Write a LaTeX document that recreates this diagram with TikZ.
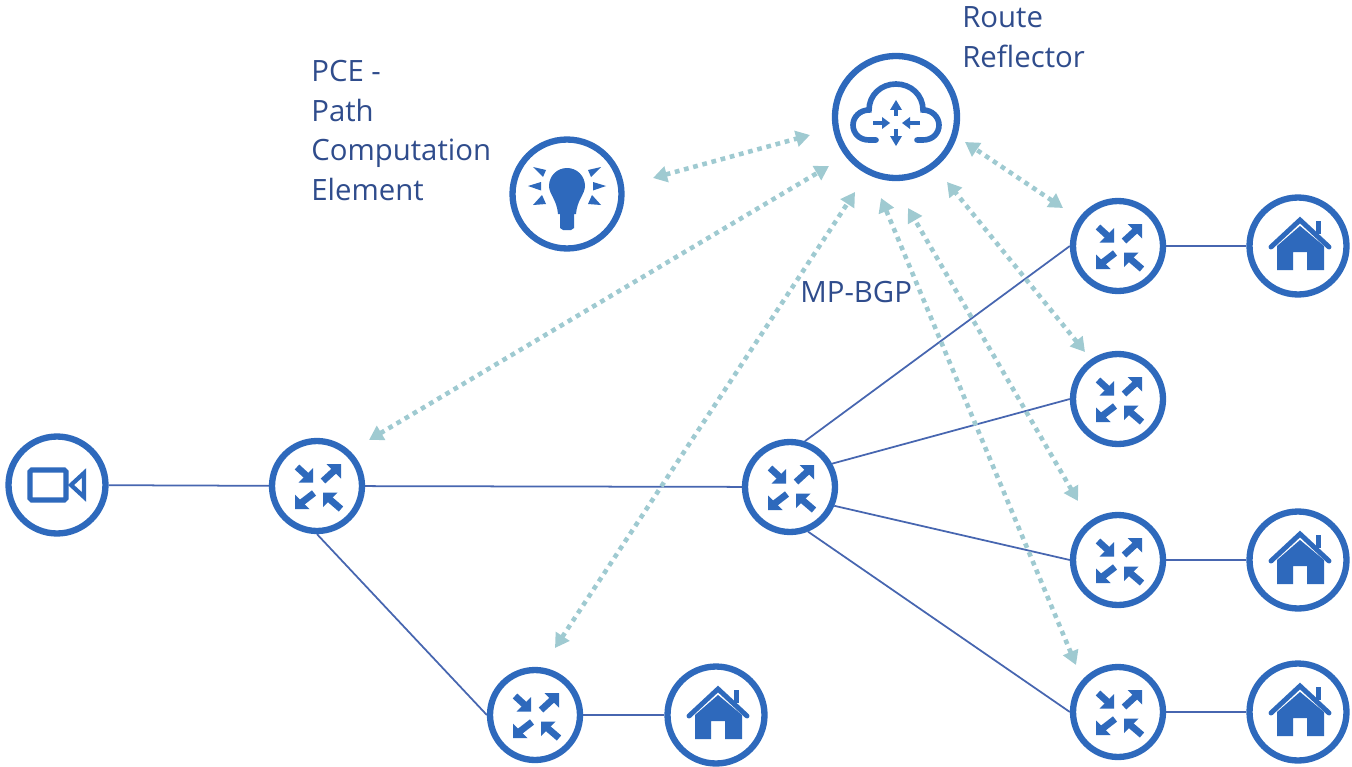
\documentclass[tikz,border=0pt]{standalone}
\usepackage{xcolor}
\usepackage{fontspec}
\setmainfont{Open Sans}
\usetikzlibrary{arrows.meta,backgrounds}

\definecolor{ringblue}{HTML}{2E69BC}
\definecolor{linkblue}{HTML}{4766B0}
\definecolor{bgpteal}{HTML}{9FCAD1}
\definecolor{labelblue}{HTML}{2F4C8C}

\tikzset{
    routernode/.style={circle,draw=ringblue,fill=white,line width=3.6pt,minimum size=1.8cm,inner sep=0pt},
    sitenode/.style={routernode,minimum size=1.94cm},
    bulbnode/.style={routernode,minimum size=2.18cm},
    cloudnode/.style={routernode,minimum size=2.44cm},
    textlabel/.style={text=labelblue,font=\fontsize{16.7}{22.7}\selectfont,align=left,anchor=west,inner sep=0pt},
    link/.style={linkblue,line width=1pt},
    bgp/.style={bgpteal,line width=2.6pt,dash pattern=on 2.7pt off 2.7pt,{Triangle[length=8pt,width=9pt]}-{Triangle[length=8pt,width=9pt]}},
    routericon/.pic={
        \fill[ringblue] (-4,-3.5) -- (-4,-18) -- (-18.5,-3.5) -- cycle;
        \draw[ringblue,line width=3.8pt] (-20,-19) -- (-8,-8);
        \fill[ringblue] (24,-22) -- (9.5,-22) -- (24,-7.5) -- cycle;
        \draw[ringblue,line width=3.8pt] (6,-5) -- (18,-16);
        \fill[ringblue] (-22,23) -- (-22,8.5) -- (-7.5,23) -- cycle;
        \draw[ringblue,line width=3.8pt] (-3,7) -- (-16,17);
        \fill[ringblue] (6,6.5) -- (6,21) -- (20.5,6.5) -- cycle;
        \draw[ringblue,line width=3.8pt] (24,23) -- (10,11);
    },
    homeicon/.pic={
        \draw[ringblue,line width=2.8pt,line cap=round] (-27,1) -- (2,-26) -- (31,1);
        \fill[ringblue] (-21,24) -- (-21,0) -- (2,-20) -- (26,0) -- (26,24) -- (9,24) -- (9,6) -- (-5,6) -- (-5,24) -- cycle;
        \fill[ringblue] (18,-25) rectangle (23,-12);
    },
    cameraicon/.pic={
        \draw[ringblue,line width=3pt,rounded corners=1pt] (-27,-15) rectangle (9,15);
        \draw[ringblue,line width=2.4pt] (27,-12) -- (14,0) -- (27,12) -- cycle;
    },
    bulbicon/.pic={
        \fill[ringblue] (0,-26) .. controls (-10,-26) and (-18,-18) .. (-18,-8) .. controls (-18,0) and (-10,6) .. (-9,20)
            -- (-7,20) -- (-7,34) -- (-4,36) -- (4,36) -- (7,34) -- (7,20) -- (9,20)
            .. controls (10,6) and (18,0) .. (18,-8) .. controls (18,-18) and (10,-26) .. (0,-26) -- cycle;
        \fill[ringblue] (-34,-27) -- (-21,-24) -- (-24,-17) -- cycle;
        \fill[ringblue] (-39,-8) -- (-26,-12) -- (-26,-3.5) -- cycle;
        \fill[ringblue] (-34,11) -- (-25,1) -- (-21,10) -- cycle;
        \fill[ringblue] (34,-27) -- (21,-24) -- (24,-17) -- cycle;
        \fill[ringblue] (39,-8) -- (26,-12) -- (26,-3.5) -- cycle;
        \fill[ringblue] (34,11) -- (25,1) -- (21,10) -- cycle;
    },
    cloudicon/.pic={
        \draw[ringblue,line width=3.2pt,line cap=round] (-20,23) -- (-27,23) .. controls (-37,23) and (-43,16) .. (-43,8)
            .. controls (-43,0) and (-36,-7) .. (-27,-7) .. controls (-27,-22) and (-15,-33) .. (0,-33)
            .. controls (15,-33) and (27,-22) .. (27,-7) .. controls (36,-7) and (43,0) .. (43,8)
            .. controls (43,16) and (37,23) .. (27,23) -- (21,23);
        \draw[ringblue,line width=2.2pt] (0,-1) -- (0,-10);
        \fill[ringblue] (0,-17) -- (-6,-7) -- (6,-7) -- cycle;
        \draw[ringblue,line width=2.2pt] (0,12) -- (0,21);
        \fill[ringblue] (0,29) -- (-6,19) -- (6,19) -- cycle;
        \draw[ringblue,line width=2.2pt] (-23,6) -- (-12,6);
        \fill[ringblue] (-6,6) -- (-14,0) -- (-14,12) -- cycle;
        \draw[ringblue,line width=2.2pt] (24,6) -- (12,6);
        \fill[ringblue] (6,6) -- (14,0) -- (14,12) -- cycle;
    },
}

\begin{document}
\begin{tikzpicture}[x=0.02cm,y=-0.02cm]
                \useasboundingbox (0,0) rectangle (1352,767);

                \node[cloudnode] (reflector) at (896,117) {};
                \node[bulbnode] (pce) at (567,194) {};

                \node[sitenode] (camera) at (57,485) {};
                \node[routernode] (left) at (317,486) {};
                \node[routernode] (centre) at (790,487) {};
                \node[routernode] (bottom) at (535,715) {};
                \node[sitenode] (homeB) at (716,715) {};

                \node[routernode] (edgeA) at (1118,246) {};
                \node[routernode] (edgeB) at (1118,399) {};
                \node[routernode] (edgeC) at (1118,560) {};
                \node[routernode] (edgeD) at (1118,712) {};

                \node[sitenode] (homeA) at (1298,246) {};
                \node[sitenode] (homeC) at (1298,560) {};
                \node[sitenode] (homeD) at (1298,712) {};

                \begin{pgfonlayer}{background}
                \draw[link] (camera) -- (left);
                \draw[link] (left) -- (centre);
                \draw[link] (left.south) -- (bottom.west);
                \draw[link] (bottom) -- (homeB);

                \draw[link] (centre.72) -- (edgeA.west);
                \draw[link] (centre.29) -- (edgeB.west);
                \draw[link] (centre.-23) -- (edgeC.west);
                \draw[link] (centre.-68) -- (edgeD.west);

                \draw[link] (edgeA) -- (homeA);
                \draw[link] (edgeC) -- (homeC);
                \draw[link] (edgeD) -- (homeD);
                \end{pgfonlayer}

                \pic at (reflector) {cloudicon};
                \pic at (pce) {bulbicon};
                \pic at (camera) {cameraicon};
                \pic at (left) {routericon};
                \pic at (centre) {routericon};
                \pic at (bottom) {routericon};
                \pic at (edgeA) {routericon};
                \pic at (edgeB) {routericon};
                \pic at (edgeC) {routericon};
                \pic at (edgeD) {routericon};
                \pic at (homeA) {homeicon};
                \pic at (homeB) {homeicon};
                \pic at (homeC) {homeicon};
                \pic at (homeD) {homeicon};

                \coordinate (pceTip) at (653,178);
                \coordinate (pceEnd) at (810,135);
                \coordinate (leftTip) at (369,440);
                \coordinate (leftEnd) at (829,166);
                \coordinate (bottomTip) at (555,648);
                \coordinate (bottomEnd) at (855,192);
                \coordinate (edgeDTip) at (1076,665);
                \coordinate (edgeDEnd) at (881,198);
                \coordinate (edgeCTip) at (1078,501);
                \coordinate (edgeCEnd) at (908,208);
                \coordinate (edgeBTip) at (1085,352);
                \coordinate (edgeBEnd) at (947,182);
                \coordinate (edgeATip) at (1063,208);
                \coordinate (edgeAEnd) at (965,142);

                \draw[bgp] (pceTip) -- (pceEnd);
                \draw[bgp] (leftTip) -- (leftEnd);
                \draw[bgp] (bottomTip) -- (bottomEnd);
                \draw[bgp] (edgeDTip) -- (edgeDEnd);
                \draw[bgp] (edgeCTip) -- (edgeCEnd);
                \draw[bgp] (edgeBTip) -- (edgeBEnd);
                \draw[bgp] (edgeATip) -- (edgeAEnd);

                \node[textlabel] (pceText) at (311,130.5) {PCE -\\Path\\Computation\\Element};
                \node[textlabel] (routeText) at (962,37) {Route\\Reflector};
                \node[textlabel] (bgpText) at (800,292) {MP-BGP};
            \end{tikzpicture}
\end{document}
